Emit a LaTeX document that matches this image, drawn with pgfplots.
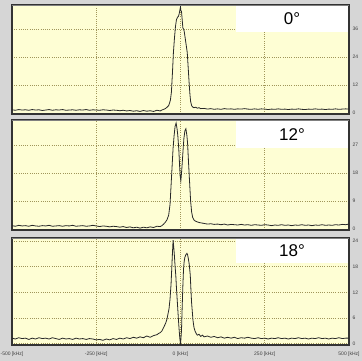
\documentclass[border=0pt]{standalone}
\usepackage{fontspec}
\setmainfont{Liberation Sans}
\usepackage{pgfplots}
\pgfplotsset{compat=1.18}
\definecolor{bggray}{RGB}{214,214,214}
\definecolor{plotbg}{RGB}{254,254,212}
\definecolor{gridc}{RGB}{160,150,90}
\definecolor{curve}{RGB}{40,40,40}
\pgfplotsset{panel/.style={
  scale only axis, width=337pt, xmin=-500, xmax=500,
  xtick={-500,-250,0,250,500},
  grid=major,
  major grid style={gridc, dash pattern=on 0.8pt off 1.4pt, line width=0.55pt},
  axis background/.style={fill=plotbg},
  axis line style={draw=black!80, line width=1.1pt},
  major tick length=0pt,
  yticklabel pos=right,
  ticklabel style={font=\fontsize{5}{5}\selectfont, text=black!75},
  /pgf/number format/assume math mode=true,
  anchor=south west,
}}
\newcommand{\labelbox}[2]{%
  \fill[white] (rel axis cs:0.665,#2) rectangle (rel axis cs:0.997,0.993);
  \node[font=\fontsize{17}{17}\selectfont] at (rel axis cs:0.831,{(#2+0.993)/2}) {#1};
  \draw[gray, line width=0.7pt] (rel axis cs:0,1) -- (rel axis cs:1,1);
}
\begin{document}
\begin{tikzpicture}[x=1pt,y=1pt]
\fill[bggray] (0,0) rectangle (362,361);
\useasboundingbox (0,0) rectangle (362,361);
% panel 1
\begin{axis}[panel, at={(12pt,247pt)}, height=109pt, ymin=-0.4, ymax=46.3,
  ytick={0,12,24,36}, xticklabels={}]
\addplot[curve, line width=0.8pt] coordinates {
(-500,1.4)(-490,1.2)(-480,1.5)(-470,1.3)(-460,1.4)(-450,1.2)(-440,1.5)(-430,1.3)(-420,1.4)(-410,1.1)(-400,1.3)(-390,1.5)(-380,1.2)(-370,1.4)(-360,1.3)(-350,1.5)(-340,1.2)(-330,1.3)(-320,1.4)(-310,1.2)(-300,1.4)(-290,1.3)(-280,1.5)(-270,1.2)(-260,1.4)(-250,1.3)(-240,1.2)(-230,1.4)(-220,1.3)(-210,1.1)(-200,1.3)(-190,1.2)(-180,1.0)(-170,1.2)(-160,0.9)(-150,1.1)(-140,0.8)(-130,1.0)(-120,0.7)(-110,1.1)(-100,0.8)(-90,1.0)(-80,0.7)(-70,1.2)(-60,0.9)(-55,1.3)(-50,1.6)(-45,1.9)(-40,2.5)(-35,3.2)(-30,5.5)(-27,9)(-24,17)(-21,26)(-18,32)(-15,37)(-12,40)(-9,41)(-6,41.5)(-4,42.5)(-2,44)(0,45.5)(1,44)(3,43.5)(5,40)(7,36.5)(9,36)(11,35)(14,32)(17,29)(20,26)(23,19)(26,12)(28,8)(30,5)(33,3.2)(36,2.6)(40,2.3)(45,2.5)(50,2.1)(55,2.3)(60,1.9)(70,2.0)(80,1.7)(90,1.9)(100,1.6)(110,1.8)(120,1.6)(130,1.9)(140,1.7)(150,1.8)(160,1.6)(170,1.8)(180,1.7)(190,1.9)(200,1.7)(210,1.6)(220,1.8)(230,1.6)(240,1.8)(250,1.7)(260,1.5)(270,1.7)(280,1.6)(290,1.8)(300,1.6)(310,1.7)(320,1.5)(330,1.7)(340,1.6)(350,1.8)(360,1.6)(370,1.5)(380,1.7)(390,1.6)(400,1.8)(410,1.6)(420,1.7)(430,1.5)(440,1.7)(450,1.6)(460,1.8)(470,1.6)(480,1.7)(490,1.8)(500,1.7)
};
\labelbox{0°}{0.752}
\end{axis}
% panel 2
\begin{axis}[panel, at={(12pt,131pt)}, height=110pt, ymin=-0.3, ymax=35,
  ytick={0,9,18,27}, xticklabels={}]
\addplot[curve, line width=0.8pt] coordinates {
(-500,1.1)(-490,0.9)(-480,1.2)(-470,1.0)(-460,1.1)(-450,0.9)(-440,1.2)(-430,1.0)(-420,0.9)(-410,1.1)(-400,1.0)(-390,1.2)(-380,0.9)(-370,1.0)(-360,1.1)(-350,0.9)(-340,1.1)(-330,1.0)(-320,1.2)(-310,0.9)(-300,1.0)(-290,1.1)(-280,0.9)(-270,1.0)(-260,1.2)(-250,1.0)(-240,0.8)(-230,1.0)(-220,0.9)(-210,0.7)(-200,0.9)(-190,0.8)(-180,0.6)(-170,0.8)(-160,0.5)(-150,0.7)(-140,0.4)(-130,0.6)(-120,0.3)(-110,0.6)(-100,0.4)(-90,0.7)(-80,0.5)(-70,0.9)(-60,0.8)(-55,1.1)(-50,1.6)(-45,2.2)(-40,3.0)(-35,4.5)(-31,8)(-28,14)(-25,20)(-22,26)(-19,30)(-16,33)(-13,34)(-10,32)(-8,30)(-5,25.5)(-3,21)(-1,17)(1,15.5)(3,18)(5,21)(8,26)(10,29)(13,31.5)(16,32.2)(19,30)(21,27.5)(24,21)(27,15)(30,9)(33,5.5)(36,3.8)(40,2.9)(45,2.5)(50,2.3)(55,2.1)(60,2.0)(70,1.8)(80,1.6)(90,1.7)(100,1.5)(110,1.6)(120,1.4)(130,1.6)(140,1.3)(150,1.5)(160,1.4)(170,1.3)(180,1.5)(190,1.3)(200,1.4)(210,1.2)(220,1.4)(230,1.3)(240,1.2)(250,1.4)(260,1.3)(270,1.1)(280,1.3)(290,1.2)(300,1.4)(310,1.2)(320,1.3)(330,1.1)(340,1.3)(350,1.2)(360,1.4)(370,1.2)(380,1.3)(390,1.1)(400,1.3)(410,1.2)(420,1.4)(430,1.2)(440,1.3)(450,1.2)(460,1.4)(470,1.3)(480,1.5)(490,1.4)(500,1.6)
};
\labelbox{12°}{0.745}
\end{axis}
% panel 3
\begin{axis}[panel, at={(12pt,16pt)}, height=107pt, ymin=-0.3, ymax=24.7,
  ytick={0,6,12,18,24},
  xticklabels={-500 [kHz],-250 [kHz],0 [kHz],250 [kHz],500 [kHz]},
  xticklabel style={yshift=-3pt}]
\addplot[curve, line width=0.8pt] coordinates {
(-500,1.3)(-490,1.1)(-480,1.4)(-470,1.2)(-460,1.3)(-450,1.0)(-440,1.3)(-430,1.1)(-420,1.4)(-410,1.2)(-400,1.3)(-390,1.1)(-380,1.4)(-370,1.2)(-360,1.0)(-350,1.3)(-340,1.1)(-330,1.2)(-320,1.0)(-310,1.3)(-300,1.1)(-290,1.2)(-280,1.0)(-270,1.2)(-260,1.1)(-250,0.9)(-240,1.0)(-230,0.8)(-220,1.1)(-210,0.9)(-200,1.2)(-190,1.0)(-180,1.3)(-170,1.1)(-160,1.4)(-150,1.2)(-140,1.5)(-130,1.3)(-120,1.6)(-110,1.4)(-100,1.8)(-90,1.5)(-80,1.9)(-70,2.1)(-65,2.4)(-60,2.6)(-55,3.0)(-50,3.8)(-47,4.3)(-44,4.8)(-40,5.8)(-37,7)(-34,8.2)(-31,10.5)(-28,14)(-26,17.5)(-24,21)(-22,24.2)(-20,22.5)(-18,20.5)(-16,18)(-14,16)(-12,13)(-10,10.5)(-8,8)(-6,5.5)(-4,3.2)(-2,1.2)(0,0)(1,0.8)(3,3.2)(5,8.6)(7,13.5)(9,17.5)(11,19.3)(13,20.2)(16,20.8)(19,21.1)(21,20.8)(23,20)(26,18.5)(29,16)(31,12.5)(33,9.5)(35,7.5)(37,5.5)(40,3.8)(43,3.0)(47,2.3)(50,2.0)(55,2.2)(60,1.7)(65,2.0)(70,1.6)(80,1.8)(90,1.5)(100,1.7)(110,1.4)(120,1.6)(130,1.3)(140,1.5)(150,1.3)(160,1.5)(170,1.2)(180,1.4)(190,1.3)(200,1.5)(210,1.3)(220,1.2)(230,1.4)(240,1.2)(250,1.3)(260,1.1)(270,1.3)(280,1.2)(290,1.4)(300,1.2)(310,1.3)(320,1.1)(330,1.3)(340,1.2)(350,1.4)(360,1.2)(370,1.3)(380,1.1)(390,1.3)(400,1.2)(410,1.4)(420,1.2)(430,1.3)(440,1.1)(450,1.3)(460,1.2)(470,1.4)(480,1.2)(490,1.3)(500,1.3)
};
\labelbox{18°}{0.766}
\end{axis}
\end{tikzpicture}
\end{document}
